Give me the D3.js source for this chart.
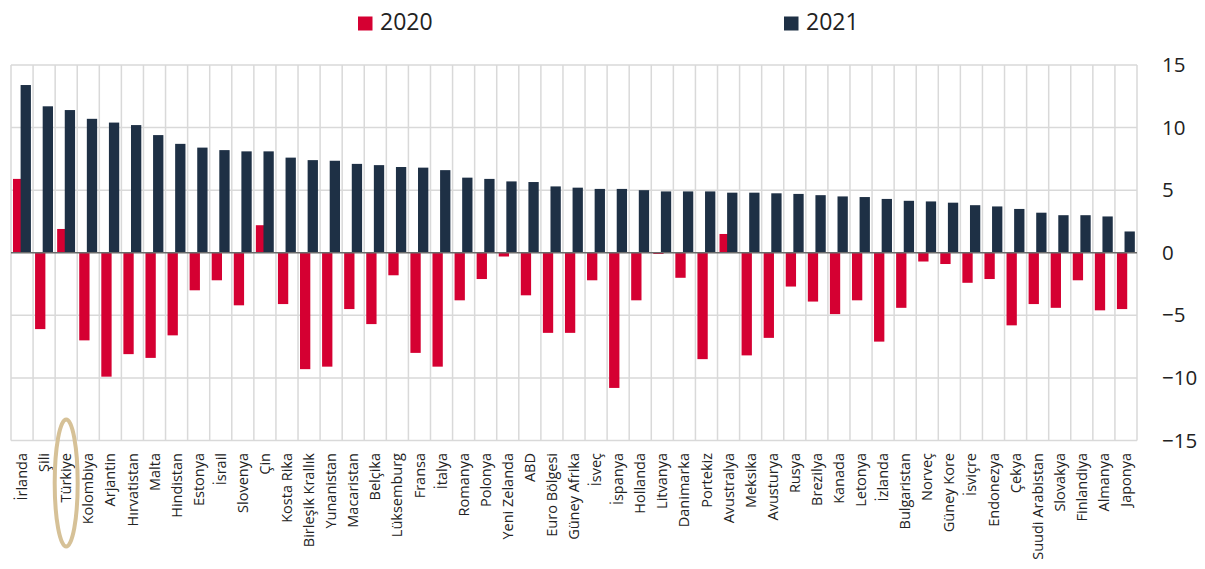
<!DOCTYPE html>
<html><head><meta charset="utf-8">
<script src="https://cdn.jsdelivr.net/npm/d3@7"></script>
<style>
html,body{margin:0;padding:0;background:#fff;}
svg{display:block;font-family:"Open Sans",sans-serif;}
</style></head>
<body>
<svg id="chart" width="1205" height="569"></svg>
<script>
const categories = ["İrlanda","Şili","Türkiye","Kolombiya","Arjantin","Hırvatistan","Malta","Hindistan","Estonya","İsrail","Slovenya","Çin","Kosta Rika","Birleşik Krallık","Yunanistan","Macaristan","Belçika","Lüksemburg","Fransa","İtalya","Romanya","Polonya","Yeni Zelanda","ABD","Euro Bölgesi","Güney Afrika","İsveç","İspanya","Hollanda","Litvanya","Danimarka","Portekiz","Avustralya","Meksika","Avusturya","Rusya","Brezilya","Kanada","Letonya","İzlanda","Bulgaristan","Norveç","Güney Kore","İsviçre","Endonezya","Çekya","Suudi Arabistan","Slovakya","Finlandiya","Almanya","Japonya"];
const values2020 = [5.9,-6.1,1.9,-7.0,-9.9,-8.1,-8.4,-6.6,-3.0,-2.2,-4.2,2.2,-4.1,-9.3,-9.1,-4.5,-5.7,-1.8,-8.0,-9.1,-3.8,-2.1,-0.3,-3.4,-6.4,-6.4,-2.2,-10.8,-3.8,-0.1,-2.0,-8.5,1.5,-8.2,-6.8,-2.7,-3.9,-4.9,-3.8,-7.1,-4.4,-0.7,-0.9,-2.4,-2.1,-5.8,-4.1,-4.4,-2.2,-4.6,-4.5];
const values2021 = [13.4,11.7,11.4,10.7,10.4,10.2,9.4,8.7,8.4,8.2,8.1,8.1,7.6,7.4,7.35,7.1,7.0,6.85,6.8,6.6,6.0,5.9,5.7,5.65,5.3,5.2,5.1,5.1,5.0,4.9,4.9,4.9,4.8,4.8,4.75,4.7,4.6,4.5,4.45,4.3,4.15,4.1,4.0,3.8,3.7,3.5,3.2,3.0,3.0,2.9,1.7];
const seriesNames = ["2020","2021"];
const yTicks = [15,10,5,0,-5,-10,-15];
const highlight = "Türkiye";

const colors = {"2020":"#d50032","2021":"#1e3045"};
const svg = d3.select("#chart");
const plotLeft = 11, plotRight = 1137, plotTop = 65, plotBottom = 440.5;

const x = d3.scaleBand().domain(categories).range([plotLeft, plotRight]).padding(0);
const y = d3.scaleLinear().domain([-15, 15]).range([plotBottom, plotTop]);
const bw = x.bandwidth();

const grid = svg.append("g");
grid.selectAll("line.h").data(yTicks.filter(d => d !== 0)).join("line")
  .attr("x1", plotLeft).attr("x2", plotRight)
  .attr("y1", d => y(d)).attr("y2", d => y(d))
  .attr("stroke", "#d9d9d9").attr("stroke-width", 1.5);
const bounds = categories.map(c => x(c)).concat([plotRight]);
grid.selectAll("line.v").data(bounds).join("line")
  .attr("x1", d => d).attr("x2", d => d)
  .attr("y1", plotTop).attr("y2", plotBottom)
  .attr("stroke", "#d9d9d9").attr("stroke-width", 1.5);

const data = categories.map((c, i) => ({c, v2020: values2020[i], v2021: values2021[i]}));
const bars = svg.append("g");
bars.selectAll("rect.s20").data(data).join("rect")
  .attr("x", d => Math.max(plotLeft, x(d.c) + bw * 0.09))
  .attr("width", bw * 0.467)
  .attr("y", d => y(Math.max(0, d.v2020)))
  .attr("height", d => Math.abs(y(d.v2020) - y(0)))
  .attr("fill", colors["2020"]);
bars.selectAll("rect.s21").data(data).join("rect")
  .attr("x", d => x(d.c) + bw * 0.435)
  .attr("width", bw * 0.467)
  .attr("y", d => y(Math.max(0, d.v2021)))
  .attr("height", d => Math.abs(y(d.v2021) - y(0)))
  .attr("fill", colors["2021"]);

svg.append("line").attr("x1", plotLeft).attr("x2", plotRight)
  .attr("y1", y(0)).attr("y2", y(0))
  .attr("stroke", "#6b6b6b").attr("stroke-width", 1.5);

const yAxis = d3.axisRight(y).tickValues(yTicks).tickSize(0).tickPadding(0);
const ya = svg.append("g").attr("transform", "translate(1162,0)").call(yAxis);
ya.select(".domain").remove();
ya.selectAll("text").attr("font-size", 20.5).attr("fill", "#222").attr("font-family", "Open Sans");

const xAxis = d3.axisBottom(x).tickSize(0).tickPadding(0);
const xa = svg.append("g").attr("transform", "translate(0,453)").call(xAxis);
xa.select(".domain").remove();
xa.selectAll("text")
  .attr("font-size", 14.5).attr("fill", "#222").attr("font-family", "Open Sans")
  .attr("text-anchor", "end")
  .attr("transform", "rotate(-90)")
  .attr("x", 0).attr("y", 0).attr("dy", "0.35em");

svg.append("ellipse")
  .attr("cx", x(highlight) + bw / 2)
  .attr("cy", 483).attr("rx", 11.5).attr("ry", 63.5)
  .attr("fill", "none").attr("stroke", "#d6c197").attr("stroke-width", 4);

const legendX = {"2020": 358, "2021": 784};
const lg = svg.append("g");
seriesNames.forEach(s => {
  lg.append("rect").attr("x", legendX[s]).attr("y", 16.5).attr("width", 14.5).attr("height", 14).attr("fill", colors[s]);
  lg.append("text").attr("x", legendX[s] + 22).attr("y", 30).attr("font-size", 23).attr("fill", "#222").text(s);
});
</script>
</body></html>
